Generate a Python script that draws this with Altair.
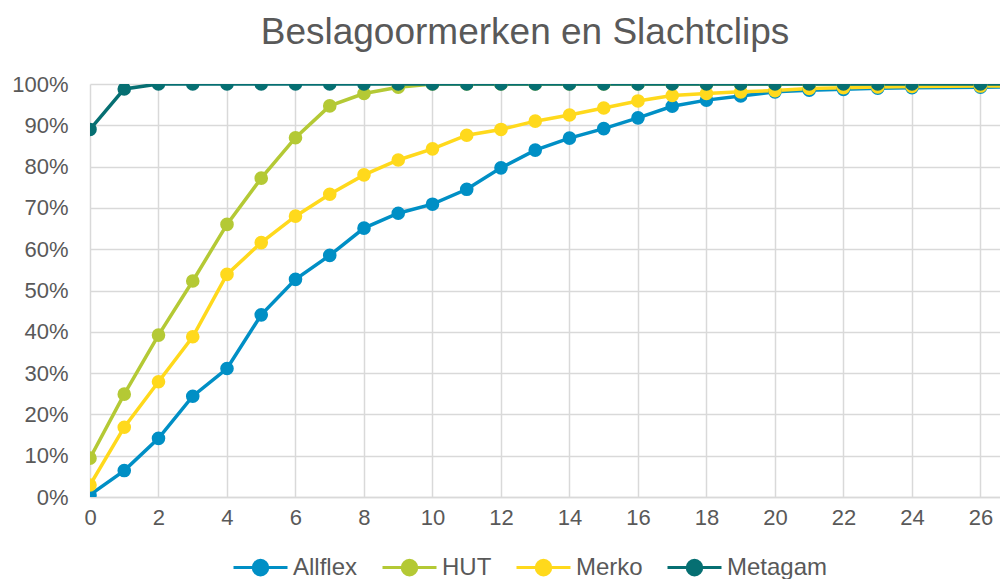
import altair as alt
import pandas as pd

x_vals = list(range(0, 25)) + [26, 28]
allflex = [0.5, 6.4, 14.2, 24.4, 31.1, 44.1, 52.7, 58.5, 65.1, 68.7, 70.9, 74.5, 79.7,
           84.0, 86.9, 89.2, 91.8, 94.6, 96.1, 97.1, 98.1, 98.5, 98.7, 99.0, 99.1, 99.2, 99.4]
hut = [9.4, 24.9, 39.2, 52.3, 66.0, 77.2, 87.0, 94.7, 97.7, 99.2, 100, 100, 100,
       100, 100, 100, 100, 100, 100, 100, 100, 100, 100, 100, 100, 100, 100]
merko = [2.9, 16.9, 27.9, 38.8, 53.9, 61.6, 68.0, 73.3, 78.0, 81.6, 84.3, 87.6, 89.0,
         91.0, 92.5, 94.2, 95.9, 97.2, 97.7, 98.1, 98.4, 98.9, 99.1, 99.3, 99.4, 99.5, 99.6]
metagam = [89.0, 98.8, 100, 100, 100, 100, 100, 100, 100, 100, 100, 100, 100,
           100, 100, 100, 100, 100, 100, 100, 100, 100, 100, 100, 100, 100, 100]

series_names = ["Allflex", "HUT", "Merko", "Metagam"]
series_colors = ["#008FC5", "#B4C935", "#FFD91C", "#066F72"]
x_ticks = list(range(0, 27, 2))
y_ticks = [i / 10 for i in range(0, 11)]

rows = []
for name, vals in zip(series_names, [allflex, hut, merko, metagam]):
    for i, (xv, yv) in enumerate(zip(x_vals, vals)):
        rows.append({"series": name, "x": xv, "y": yv / 100, "order": i})
df = pd.DataFrame(rows)

text_color = "#595959"
grid_color = "#D9D9D9"
font = "Liberation Sans"
sym = "M-1,0L1,0M-0.27,0A0.27,0.27,0,1,1,0.27,0A0.27,0.27,0,1,1,-0.27,0Z"

legend = alt.Legend(
    title=None,
    orient="none",
    legendX=142,
    legendY=455,
    direction="horizontal",
    columns=4,
    symbolType=sym,
    symbolSize=2916,
    symbolStrokeWidth=3,
    symbolOpacity=1,
    labelFontSize=24,
    labelFont=font,
    labelColor=text_color,
    labelOffset=4,
    columnPadding=18,
    labelLimit=300,
)

color = alt.Color(
    "series:N",
    scale=alt.Scale(domain=series_names, range=series_colors),
    legend=legend,
)

base = alt.Chart(df).encode(
    x=alt.X(
        "x:Q",
        scale=alt.Scale(domain=[0, 26.57], nice=False),
        axis=alt.Axis(
            values=x_ticks,
            title=None,
            ticks=False,
            tickSize=0,
            labelPadding=10,
            labelFontSize=22,
            labelFont=font,
            labelColor=text_color,
            grid=True,
            gridColor=grid_color,
            gridWidth=1.5,
            domain=True,
            domainColor=grid_color,
            domainWidth=1.5,
            labelFlush=False,
        ),
    ),
    y=alt.Y(
        "y:Q",
        scale=alt.Scale(domain=[0, 1], nice=False),
        axis=alt.Axis(
            values=y_ticks,
            format=".0%",
            title=None,
            ticks=False,
            tickSize=0,
            labelPadding=22,
            labelFontSize=22,
            labelFont=font,
            labelColor=text_color,
            grid=True,
            gridColor=grid_color,
            gridWidth=1.5,
            domain=False,
        ),
    ),
    color=color,
    order=alt.Order("order:Q"),
)

lines = base.mark_line(strokeWidth=3.5, clip=True)
points = base.mark_point(filled=True, size=185, opacity=1, clip=True)

chart = (
    alt.layer(lines, points)
    .properties(
        width=910,
        height=413,
        padding={"left": 82, "top": 76, "right": 0, "bottom": 82},
        autosize=alt.AutoSizeParams(type="none"),
        title=alt.TitleParams(
            "Beslagoormerken en Slachtclips",
            fontSize=37,
            font=font,
            fontWeight="normal",
            color=text_color,
            anchor="middle",
            dx=-20,
            baseline="alphabetic",
            offset=-8,
        ),
    )
    .configure_view(stroke=None)
    .configure_legend(symbolType=sym)
)

chart.save("out.html", embed_options={"renderer": "svg", "actions": False})
